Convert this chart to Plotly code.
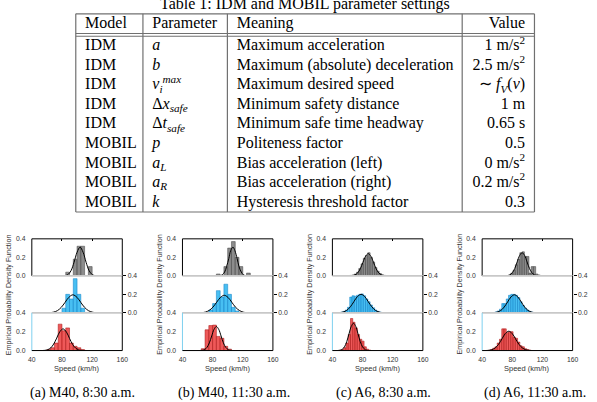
import plotly.graph_objects as go

W, H = 597, 402

# ---------------- table data ----------------
table_title = "Table 1: IDM and MOBIL parameter settings"
col_headers = ["Model", "Parameter", "Meaning", "Value"]
models = ["IDM", "IDM", "IDM", "IDM", "IDM", "MOBIL", "MOBIL", "MOBIL", "MOBIL"]
parameters = ["<i>a</i>", "<i>b</i>", "<i>v<sub>i</sub><sup>max</sup></i>",
              "Δ<i>x<sub>safe</sub></i>", "Δ<i>t<sub>safe</sub></i>", "<i>p</i>",
              "<i>a<sub>L</sub></i>", "<i>a<sub>R</sub></i>", "<i>k</i>"]
meanings = ["Maximum acceleration", "Maximum (absolute) deceleration",
            "Maximum desired speed", "Minimum safety distance",
            "Minimum safe time headway", "Politeness factor",
            "Bias acceleration (left)", "Bias acceleration (right)",
            "Hysteresis threshold factor"]
values = ["1 m/s<sup>2</sup>", "2.5 m/s<sup>2</sup>", "∼ <i>f<sub>V</sub></i>(<i>v</i>)",
          "1 m", "0.65 s", "0.5", "0 m/s<sup>2</sup>", "0.2 m/s<sup>2</sup>", "0.3"]

# ---------------- histogram panels ----------------
captions = ["(a) M40, 8:30 a.m.", "(b) M40, 11:30 a.m.", "(c) A6, 8:30 a.m.", "(d) A6, 11:30 a.m."]
speed_ticks = [40, 80, 120, 160]
density_ticks = [0.0, 0.2, 0.4]
density_ticktext = ["0.0", "0.2", "0.4"]
x_title = "Speed (km/h)"
y_title = "Empirical Probability Density Function"

# panel (a) M40 8:30
a_gray_x = [87.5, 97.5, 102.5, 107.5, 117.5]
a_gray_y = [0.04, 0.18, 0.32, 0.32, 0.10]
a_blue_x = [82.5, 87.5, 92.5, 97.5, 102.5, 107.5]
a_blue_y = [0.05, 0.20, 0.15, 0.37, 0.20, 0.05]
a_red_x = [62.5, 67.5, 72.5, 77.5, 82.5, 87.5, 92.5, 97.5, 102.5, 107.5]
a_red_y = [0.01, 0.03, 0.08, 0.28, 0.21, 0.24, 0.08, 0.045, 0.03, 0.01]
a_gray_fx = [40, 84, 88, 92, 96, 100, 104, 108, 112, 116, 120, 124, 160]
a_gray_fy = [0, 0.003, 0.015, 0.056, 0.146, 0.255, 0.31, 0.255, 0.146, 0.056, 0.015, 0.003, 0]
a_blue_fx = [40, 64, 69, 74, 79, 84, 89, 94.5, 100, 105, 110, 115, 120, 125, 160]
a_blue_fy = [0, 0.002, 0.008, 0.024, 0.059, 0.112, 0.167, 0.195, 0.167, 0.112, 0.059, 0.024, 0.008, 0.002, 0]
a_red_fx = [40, 57, 61, 65, 69, 73, 77, 81.4, 86, 90, 94, 98, 102, 106, 160]
a_red_fy = [0, 0.002, 0.009, 0.028, 0.069, 0.132, 0.198, 0.23, 0.195, 0.129, 0.066, 0.027, 0.008, 0.002, 0]

# panel (b) M40 11:30
b_gray_x = [87.5, 97.5, 102.5, 107.5, 112.5, 117.5, 127.5]
b_gray_y = [0.02, 0.10, 0.30, 0.37, 0.20, 0.10, 0.03]
b_blue_x = [77.5, 82.5, 87.5, 92.5, 97.5, 102.5, 107.5, 112.5]
b_blue_y = [0.03, 0.10, 0.24, 0.17, 0.31, 0.20, 0.06, 0.02]
b_red_x = [67.5, 72.5, 77.5, 82.5, 87.5, 92.5, 97.5, 102.5]
b_red_y = [0.02, 0.22, 0.265, 0.27, 0.15, 0.13, 0.045, 0.015]
b_gray_fx = [40, 90, 93, 96, 98.5, 101.5, 104, 107, 109.5, 112.5, 115, 118, 120.5, 123.5, 160]
b_gray_fy = [0, 0.003, 0.014, 0.042, 0.10, 0.188, 0.274, 0.31, 0.274, 0.188, 0.10, 0.042, 0.014, 0.003, 0]
b_blue_fx = [40, 65.4, 70.4, 75.4, 80.4, 85.4, 90.4, 95.4, 100.4, 105.4, 110.4, 115.4, 120.4, 125.4, 160]
b_blue_fy = [0, 0.002, 0.008, 0.026, 0.061, 0.115, 0.167, 0.19, 0.167, 0.115, 0.061, 0.026, 0.008, 0.002, 0]
b_red_fx = [40, 66.4, 69.5, 72.6, 75.7, 78.8, 81.9, 85, 88.1, 91.2, 94.3, 97.4, 100.5, 103.6, 160]
b_red_fy = [0, 0.003, 0.011, 0.034, 0.082, 0.155, 0.225, 0.255, 0.225, 0.155, 0.082, 0.034, 0.011, 0.003, 0]

# panel (c) A6 8:30
c_gray_x = [64.5, 67.5, 70.5, 73.5, 76.5, 79.5, 82.5, 85.5, 88.5, 91.5, 94.5, 97.5, 100.5, 103.5, 106.5, 109.5]
c_gray_y = [0.005, 0.01, 0.02, 0.04, 0.08, 0.13, 0.19, 0.22, 0.25, 0.20, 0.15, 0.09, 0.05, 0.025, 0.012, 0.005]
c_blue_x = [49.5, 52.5, 55.5, 58.5, 61.5, 64.5, 67.5, 70.5, 73.5, 76.5, 79.5, 82.5, 85.5, 88.5, 91.5, 94.5, 97.5, 100.5, 103.5, 106.5]
c_blue_y = [0.003, 0.008, 0.015, 0.03, 0.06, 0.17, 0.185, 0.18, 0.19, 0.20, 0.205, 0.185, 0.15, 0.12, 0.085, 0.055, 0.03, 0.015, 0.008, 0.003]
c_red_x = [50.5, 53.5, 56.5, 59.5, 62.5, 65.5, 68.5, 71.5, 74.5, 77.5, 80.5, 83.5, 86.5, 89.5]
c_red_y = [0.003, 0.01, 0.03, 0.08, 0.17, 0.34, 0.30, 0.24, 0.17, 0.12, 0.10, 0.04, 0.015, 0.005]
c_gray_fx = [40, 66.5, 70, 73.5, 77, 80.5, 84, 87.5, 91, 94.5, 98, 101.5, 105, 108.5, 160]
c_gray_fy = [0, 0.003, 0.011, 0.032, 0.077, 0.146, 0.212, 0.24, 0.212, 0.146, 0.077, 0.032, 0.011, 0.003, 0]
c_blue_fx = [40, 49.5, 54.3, 59, 63.8, 68.5, 73.3, 78, 82.8, 87.5, 92.3, 97, 101.8, 106.5, 160]
c_blue_fy = [0, 0.002, 0.009, 0.027, 0.065, 0.121, 0.177, 0.20, 0.177, 0.121, 0.065, 0.027, 0.009, 0.002, 0]
c_red_fx = [40, 50, 53, 56, 59, 62, 65, 68, 71, 74, 77, 80, 83, 86, 160]
c_red_fy = [0, 0.003, 0.013, 0.039, 0.094, 0.176, 0.256, 0.29, 0.256, 0.176, 0.094, 0.039, 0.013, 0.003, 0]

# panel (d) A6 11:30
d_gray_x = [73.5, 76.5, 79.5, 82.5, 85.5, 88.5, 91.5, 94.5, 97.5, 100.5, 103.5, 106.5, 109.5, 112.5, 115.5]
d_gray_y = [0.003, 0.01, 0.03, 0.06, 0.12, 0.18, 0.25, 0.26, 0.21, 0.21, 0.03, 0.10, 0.10, 0.02, 0.01]
d_blue_x = [55.5, 58.5, 61.5, 64.5, 67.5, 70.5, 73.5, 76.5, 79.5, 82.5, 85.5, 88.5, 91.5, 94.5, 97.5, 100.5, 103.5, 106.5, 109.5]
d_blue_y = [0.003, 0.01, 0.02, 0.04, 0.10, 0.10, 0.15, 0.19, 0.20, 0.20, 0.19, 0.165, 0.12, 0.08, 0.05, 0.03, 0.015, 0.007, 0.003]
d_red_x = [49.5, 52.5, 55.5, 58.5, 61.5, 64.5, 67.5, 70.5, 73.5, 76.5, 79.5, 82.5, 85.5, 88.5, 91.5, 94.5, 97.5, 100.5, 103.5]
d_red_y = [0.003, 0.01, 0.025, 0.04, 0.08, 0.12, 0.23, 0.23, 0.19, 0.20, 0.20, 0.14, 0.13, 0.09, 0.05, 0.04, 0.02, 0.01, 0.004]
d_gray_fx = [40, 73.5, 76.8, 80, 83.3, 86.5, 89.8, 93, 96.3, 99.5, 102.8, 106, 109.3, 112.5, 160]
d_gray_fy = [0, 0.003, 0.011, 0.034, 0.08, 0.152, 0.221, 0.25, 0.221, 0.152, 0.08, 0.034, 0.011, 0.003, 0]
d_blue_fx = [40, 55.8, 60.3, 64.8, 69.3, 73.8, 78.3, 82.8, 87.3, 91.8, 96.3, 100.8, 105.3, 109.8, 160]
d_blue_fy = [0, 0.002, 0.009, 0.026, 0.063, 0.118, 0.172, 0.195, 0.172, 0.118, 0.063, 0.026, 0.009, 0.002, 0]
d_red_fx = [40, 48.3, 52.8, 57.3, 61.8, 66.3, 70.8, 75.3, 79.8, 84.3, 88.8, 93.3, 97.8, 102.3, 160]
d_red_fy = [0, 0.002, 0.009, 0.028, 0.066, 0.124, 0.181, 0.205, 0.181, 0.124, 0.066, 0.028, 0.009, 0.002, 0]

panels = [
    [(a_gray_x, a_gray_y, a_gray_fx, a_gray_fy), (a_blue_x, a_blue_y, a_blue_fx, a_blue_fy), (a_red_x, a_red_y, a_red_fx, a_red_fy)],
    [(b_gray_x, b_gray_y, b_gray_fx, b_gray_fy), (b_blue_x, b_blue_y, b_blue_fx, b_blue_fy), (b_red_x, b_red_y, b_red_fx, b_red_fy)],
    [(c_gray_x, c_gray_y, c_gray_fx, c_gray_fy), (c_blue_x, c_blue_y, c_blue_fx, c_blue_fy), (c_red_x, c_red_y, c_red_fx, c_red_fy)],
    [(d_gray_x, d_gray_y, d_gray_fx, d_gray_fy), (d_blue_x, d_blue_y, d_blue_fx, d_blue_fy), (d_red_x, d_red_y, d_red_fx, d_red_fy)],
]

# ---------------- styles / layout geometry ----------------
BIN_W = [5, 5, 3, 3]
FILLS = ["rgba(120,120,120,0.85)", "rgba(40,180,240,0.85)", "rgba(235,60,60,0.85)"]
EDGES = ["rgba(70,70,70,0.9)", "rgba(20,130,200,0.9)", "rgba(170,25,25,0.9)"]
PANEL_LEFT_PX = [28.3, 181.5, 334.0, 486.3]
CAPTION_SHIFT = [5, 6, 6, 8]
PANEL_W_PX = 92.0
ROW_PX = [(239.0, 276.7), (276.7, 314.3), (314.3, 352.7)]
SANS = "Liberation Sans"
SERIF = "Liberation Serif"

fig = go.Figure()
layout = dict(width=W, height=H, margin=dict(l=0, r=0, t=0, b=0),
              paper_bgcolor="white", plot_bgcolor="rgba(0,0,0,0)", showlegend=False,
              barmode="overlay")
shapes, annotations = [], []

def yd(px):
    return 1 - px / H

for p, rows in enumerate(panels):
    x0 = PANEL_LEFT_PX[p] / W
    x1 = (PANEL_LEFT_PX[p] + PANEL_W_PX) / W
    for r, (bx, by, fx, fy) in enumerate(rows):
        n = 3 * p + r + 1
        xa = "x" if n == 1 else f"x{n}"
        ya = "y" if n == 1 else f"y{n}"
        xk = "xaxis" if n == 1 else f"xaxis{n}"
        yk = "yaxis" if n == 1 else f"yaxis{n}"
        fig.add_trace(go.Bar(x=bx, y=by, width=BIN_W[p], xaxis=xa, yaxis=ya,
                             marker=dict(color=FILLS[r], line=dict(color=EDGES[r], width=0.6)),
                             hoverinfo="skip"))
        fig.add_trace(go.Scatter(x=fx, y=fy, mode="lines", xaxis=xa, yaxis=ya,
                                 line=dict(color="black", width=1, shape="spline"),
                                 hoverinfo="skip"))
        top_px, bot_px = ROW_PX[r]
        xax = dict(domain=[x0, x1], range=[40, 160], anchor=ya, tickvals=speed_ticks,
                   showgrid=False, zeroline=False, showline=False,
                   tickfont=dict(family=SANS, size=6.8, color="#333"))
        if r == 0:
            xax.update(side="top", ticks="inside", ticklen=2.5, tickcolor="black",
                       tickwidth=0.8, showticklabels=False)
        elif r == 1:
            xax.update(ticks="", showticklabels=False)
        else:
            xax.update(ticks="outside", ticklen=2, tickcolor="rgba(0,0,0,0)",
                       showticklabels=True)
        yax = dict(domain=[yd(bot_px), yd(top_px)], range=[0, 0.4], anchor=xa,
                   tickvals=density_ticks, ticktext=density_ticktext,
                   showgrid=False, zeroline=False, showline=False,
                   tickfont=dict(family=SANS, size=6.8, color="#333"))
        if r == 1:
            yax.update(side="right", ticks="outside", ticklen=3, tickcolor="black", tickwidth=0.8)
        else:
            yax.update(side="left", ticks="outside", ticklen=4, tickcolor="rgba(0,0,0,0)")
        layout[xk] = xax
        layout[yk] = yax

        dx, dy = f"{xa} domain", f"{ya} domain"
        def seg(xa0, ya0, xa1, ya1, color, width):
            shapes.append(dict(type="line", xref=dx, yref=dy, x0=xa0, y0=ya0, x1=xa1, y1=ya1,
                               line=dict(color=color, width=width), layer="above"))
        seg(1, 0, 1, 1, "black", 1)
        if r == 0:
            seg(0, 1, 1, 1, "black", 1)
            seg(0, 0, 0, 1, "black", 1)
            seg(0, 0, 1, 0, "#c8c8c8", 1.8)
        elif r == 1:
            seg(0, 0, 1, 0, "#c8c8c8", 1.8)
        else:
            seg(0, 0, 0, 1, "#7fd0ef", 1)
            seg(0, 0, 1, 0, "black", 1)
            annotations.append(dict(text=x_title, xref=dx, yref=dy, x=0.5, y=0, yshift=-18,
                                    xanchor="center", yanchor="middle",
                                    showarrow=False, font=dict(family=SANS, size=7.5, color="#333")))
            annotations.append(dict(text=captions[p], xref=dx, yref=dy, x=0.5, y=0,
                                    xshift=CAPTION_SHIFT[p], yshift=-42,
                                    xanchor="center", yanchor="middle",
                                    showarrow=False, font=dict(family=SERIF, size=14, color="black")))
        if r == 1:
            annotations.append(dict(text=y_title, xref=dx, yref=dy, x=0, y=0.5, xshift=-23,
                                    xanchor="center", yanchor="middle",
                                    textangle=-90, showarrow=False,
                                    font=dict(family=SANS, size=7.2, color="#333")))

# ---------------- table (text cells drawn on a hidden pixel-unit axis pair) ----------------
TBL_L, TBL_R, TBL_T, TBL_B = 73.0, 539.5, 10.0, 211.7
COL_PX = [141.3, 227.2, 466.0]
HDR_PX = [30.0, 32.8]
HEADER_Y = 20.0
ROW0_Y, ROW_STEP = 43.0, 19.9
CELL_PAD = 9.5
col_text_x = [TBL_L + CELL_PAD, COL_PX[0] + CELL_PAD, COL_PX[1] + CELL_PAD, TBL_R - CELL_PAD]
col_pos = ["middle right", "middle right", "middle right", "middle left"]
columns = [models, parameters, meanings, values]

layout["xaxis13"] = dict(domain=[0, 1], range=[0, W], visible=False, anchor="y13", fixedrange=True)
layout["yaxis13"] = dict(domain=[0, 1], range=[H, 0], visible=False, anchor="x13", fixedrange=True)
for ci, col in enumerate(columns):
    ys = [HEADER_Y] + [ROW0_Y + ROW_STEP * i for i in range(len(col))]
    fig.add_trace(go.Scatter(x=[col_text_x[ci]] * len(ys), y=ys, mode="text",
                             text=[col_headers[ci]] + list(col), textposition=col_pos[ci],
                             textfont=dict(family=SERIF, size=16, color="black"),
                             xaxis="x13", yaxis="y13", cliponaxis=False, hoverinfo="skip"))

LC, LW = "#707070", 1.2
def pline(x0p, y0p, x1p, y1p):
    shapes.append(dict(type="line", xref="paper", yref="paper", x0=x0p / W, x1=x1p / W,
                       y0=yd(y0p), y1=yd(y1p), line=dict(color=LC, width=LW), layer="above"))
pline(TBL_L, TBL_T, TBL_R, TBL_T)
pline(TBL_L, TBL_B, TBL_R, TBL_B)
pline(TBL_L, TBL_T, TBL_L, TBL_B)
pline(TBL_R, TBL_T, TBL_R, TBL_B)
for c in COL_PX:
    pline(c, TBL_T, c, TBL_B)
for h in HDR_PX:
    pline(TBL_L, h, TBL_R, h)
annotations.append(dict(text=table_title, xref="paper", yref="paper", x=(TBL_L + TBL_R) / 2 / W,
                        y=yd(-0.5), yanchor="middle", showarrow=False,
                        font=dict(family=SERIF, size=16, color="black")))

layout["shapes"] = shapes
layout["annotations"] = annotations
fig.update_layout(**layout)
fig.write_html("out.html")
